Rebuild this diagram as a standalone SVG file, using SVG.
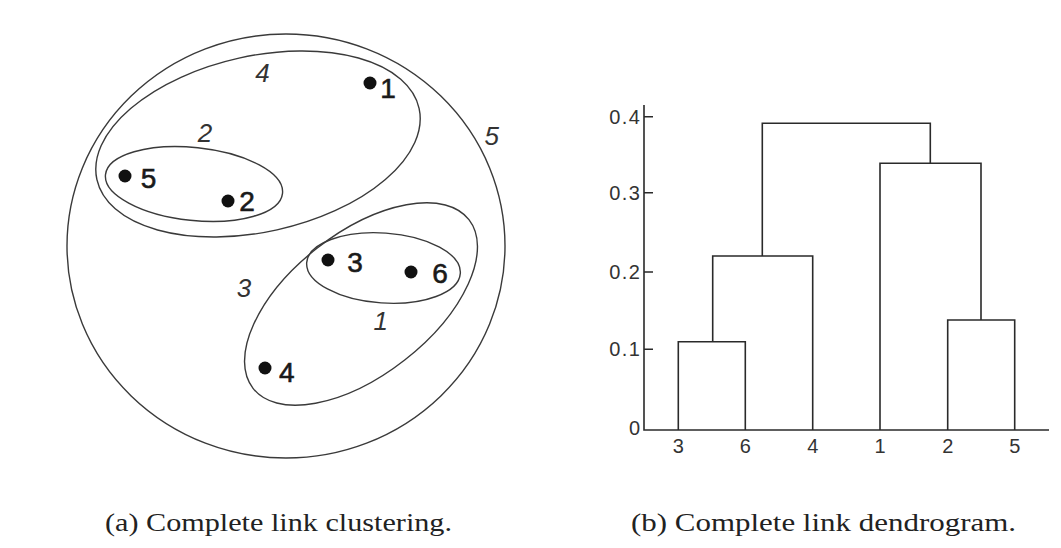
<svg xmlns="http://www.w3.org/2000/svg" width="1061" height="548" viewBox="0 0 1061 548">
<style>
.cl{fill:none;stroke:#3a3a3a;stroke-width:1.4}
.pt{fill:#111}
.pl{font-family:"Liberation Sans",Arial,sans-serif;font-size:28px;fill:#1a1a1a;stroke:#1a1a1a;stroke-width:0.6;text-anchor:middle}
.cn{font-family:"Liberation Sans",Arial,sans-serif;font-size:26px;font-style:italic;fill:#333;text-anchor:middle}
.dl{fill:none;stroke:#2a2a2a;stroke-width:1.6}
.ax{font-family:"Liberation Sans",Arial,sans-serif;font-size:20px;fill:#333}
.tk{letter-spacing:1.5px}
.cap{font-family:"Liberation Serif","Times New Roman",serif;font-size:25px;fill:#222}
</style>
<rect width="1061" height="548" fill="#fff"/>
<g id="clusters">
<ellipse id="c5" class="cl" cx="286" cy="246" rx="219" ry="212"/>
<ellipse id="c4" class="cl" cx="258" cy="144" rx="165" ry="88" transform="rotate(-12.5 258 144)"/>
<ellipse id="c2" class="cl" cx="194" cy="184" rx="89" ry="36.5" transform="rotate(6 194 184)"/>
<ellipse id="c3" class="cl" cx="361" cy="304" rx="137" ry="71" transform="rotate(-38 361 304)"/>
<ellipse id="c1" class="cl" cx="383.5" cy="268" rx="77" ry="35" transform="rotate(4 383.5 268)"/>
<text class="cn" x="262.5" y="81.5">4</text>
<text class="cn" x="205" y="141.5">2</text>
<text class="cn" x="491.7" y="145">5</text>
<text class="cn" x="244" y="296.5">3</text>
<text class="cn" x="380.7" y="330">1</text>
</g>
<g id="p1"><circle class="pt" cx="370" cy="83" r="6.5"/><text class="pl" x="388" y="97.5">1</text></g>
<g id="p5"><circle class="pt" cx="125" cy="176" r="6.5"/><text class="pl" x="148.5" y="188">5</text></g>
<g id="p2"><circle class="pt" cx="228" cy="201" r="6.5"/><text class="pl" x="247" y="211">2</text></g>
<g id="p3"><circle class="pt" cx="328" cy="260" r="6.5"/><text class="pl" x="355" y="271.5">3</text></g>
<g id="p6"><circle class="pt" cx="411" cy="272" r="6.5"/><text class="pl" x="440" y="283">6</text></g>
<g id="p4"><circle class="pt" cx="265" cy="368" r="6.5"/><text class="pl" x="286.7" y="381.5">4</text></g>
<g id="axes">
<path class="dl" d="M644 105V430H1049"/>
<path class="dl" d="M644 116.7H653M644 192.7H653M644 272H653M644 349.3H653"/>
<g class="ax tk" text-anchor="end">
<text x="641.5" y="123.5">0.4</text>
<text x="641.5" y="199.5">0.3</text>
<text x="641.5" y="279">0.2</text>
<text x="641.5" y="356">0.1</text>
<text x="641.5" y="435">0</text>
</g>
<g class="ax" text-anchor="middle" font-size="21">
<text x="678.3" y="453">3</text>
<text x="745.3" y="453">6</text>
<text x="812.7" y="453">4</text>
<text x="880" y="453">1</text>
<text x="947.7" y="453">2</text>
<text x="1014.7" y="453">5</text>
</g>
</g>
<g id="connectors">
<path class="dl" d="M678.3 430V341.7H745.3V430"/>
<path class="dl" d="M712.7 341.7V256H812.7V430"/>
<path class="dl" d="M947.7 430V320H1014.7V430"/>
<path class="dl" d="M880 430V163.3H981V320"/>
<path class="dl" d="M762.3 256V123.3H930.3V163.3"/>
</g>
<text class="cap" x="105" y="531" textLength="347" lengthAdjust="spacingAndGlyphs">(a) Complete link clustering.</text>
<text class="cap" x="631" y="531" textLength="385" lengthAdjust="spacingAndGlyphs">(b) Complete link dendrogram.</text>
</svg>
